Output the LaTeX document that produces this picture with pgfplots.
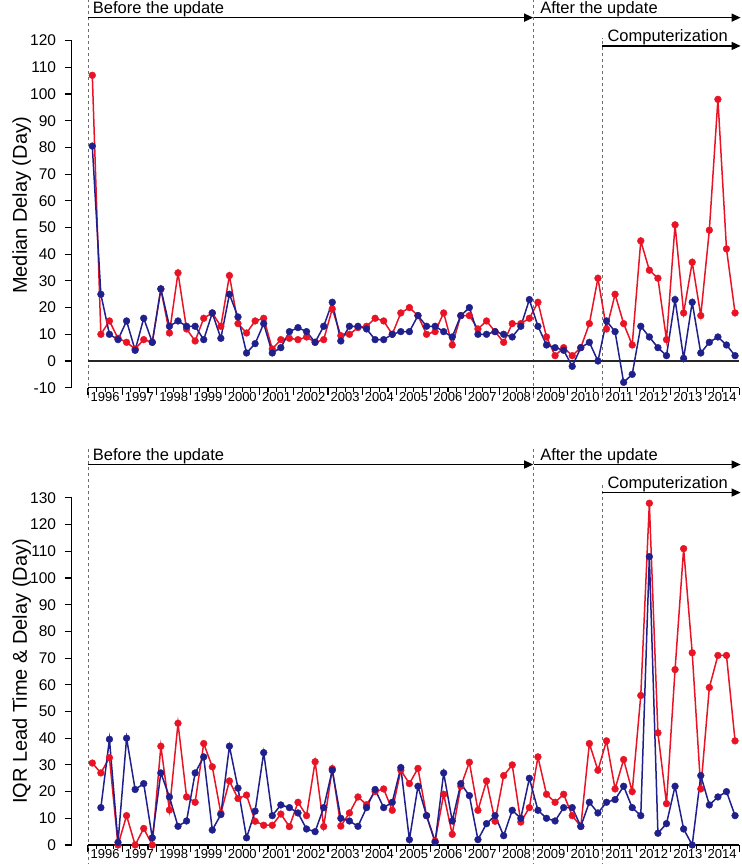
\documentclass[border=0pt]{standalone}
\usepackage{pgfplots}
\pgfplotsset{compat=1.18}
\usepackage{fontspec}
\setmainfont{Liberation Sans}
\usetikzlibrary{arrows.meta}
\definecolor{cred}{RGB}{232,20,38}
\definecolor{cblue}{RGB}{32,32,140}
\definecolor{dashgray}{RGB}{110,110,110}

\pgfplotstableread{
i r b
0 107 80.5
1 10 25
2 15 10
3 8.5 8
4 7 15
5 4.5 4
6 8 16
7 7 7
8 27 27
9 10.5 13
10 33 15
11 12 13
12 7.5 13
13 16 8
14 18 18
15 13 8.5
16 32 25
17 14 16.5
18 10.5 3
19 15 6.5
20 16 14
21 4.5 3
22 8 5
23 8.5 11
24 8 12.5
25 9 11
26 7 7
27 8 13
28 19.5 22
29 9.5 7.5
30 10 13
31 12.5 13
32 13 12
33 16 8
34 15 8
35 10 10
36 18 11
37 20 11
38 17 17
39 10 13
40 11 13
41 18 11
42 6 9
43 17 17
44 17 20
45 12 10
46 15 10
47 11 11
48 7 10
49 14 9
50 14 13
51 16 23
52 22 13
53 9 6
54 2 5
55 5 4
56 2 -2
57 5 5
58 14 7
59 31 0
60 12 15
61 25 11
62 14 -8
63 6 -5
64 45 13
65 34 9
66 31 5
67 8 2
68 51 23
69 18 1
70 37 22
71 17 3
72 49 7
73 98 9
74 42 6
75 18 2
}\topdata

\pgfplotstableread{
i r b
0 30.7 nan
1 27 14
2 32.7 39.6
3 0 1
4 11 40
5 0 20.8
6 6.2 23
7 0 2.7
8 37 27
9 13.1 18
10 45.6 7
11 18 9
12 16 27
13 38 33
14 29.3 5.6
15 11.9 11.4
16 24 37
17 17.4 21.3
18 18.7 2.7
19 8.9 12.7
20 7.4 34.6
21 7.4 11
22 11.6 15
23 6.9 14
24 16 12
25 11 6
26 31.2 5
27 6.9 14
28 28.6 28
29 7.1 10
30 12 9
31 18 7
32 15.1 14
33 20 20.8
34 21 14
35 13 16
36 28 29
37 23 2
38 28.7 22
39 11 11
40 1.5 1
41 19 27
42 4 9
43 22 23
44 31 18.5
45 13 2
46 24 8
47 8.9 11
48 26 3.5
49 30 13
50 8.6 10
51 14 25
52 33 13
53 19 10
54 16 9
55 19 14
56 11 14
57 6.9 7
58 38 16
59 28 12
60 39 16
61 21 17
62 32 22
63 20 14
64 56 11
65 128 108
66 42 4.4
67 15.5 8
68 65.7 22
69 111 6
70 72 0
71 21 26
72 59 15
73 71 18
74 71 20
75 39 11
}\botdata

\pgfplotsset{
  panel/.style={
    x=8.57pt, y=2.67pt,
    xmin=-2.4, xmax=75.5,
    clip=false,
    axis x line*=bottom, axis y line*=left,
    x axis line style={draw=none},
    y axis line style={line width=1.2pt},
    tick align=outside,
    major tick length=7pt, minor tick length=4pt,
    every tick/.style={black, line width=1.1pt},
    xtick={-0.5,3.5,...,75.5},
    minor xtick={-0.5,0.5,...,75.5},
    xticklabels={1996,1997,1998,1999,2000,2001,2002,2003,2004,2005,2006,2007,2008,2009,2010,2011,2012,2013,2014,{}},
    xticklabel style={font=\fontsize{13}{14}\selectfont, inner sep=0pt, anchor=north, xshift=17.14pt, yshift=2.5pt},
    yticklabel style={font=\fontsize{15.5}{17}\selectfont, inner sep=0pt, anchor=east, xshift=-8.5pt},
    /pgf/number format/assume math mode=true,
    ylabel style={font=\fontsize{20}{22}\selectfont, anchor=center},
    redline/.style={color=cred, line width=1.5pt, mark=*, mark size=3.4pt, mark options={solid, fill=cred, draw=cred, line width=0.4pt}},
    blueline/.style={color=cblue, line width=1.5pt, mark=*, mark size=3.4pt, mark options={solid, fill=cblue, draw=cblue, line width=0.4pt}},
  }
}

\begin{document}
\begin{tikzpicture}
\begin{axis}[panel, at={(0pt,0pt)}, anchor=origin,
  ymin=-10, ymax=120, ytick={-10,0,...,120},
  ylabel={Median Delay (Day)},
  ylabel style={at={(axis description cs:-0.075,0.525)}}]
  \draw[dashgray, dashed, line width=1pt] (axis cs:-0.5,-14) -- (axis cs:-0.5,135.2);
  \draw[dashgray, dashed, line width=1pt] (axis cs:51.5,-14) -- (axis cs:51.5,135.2);
  \draw[dashgray, dashed, line width=1pt] (axis cs:59.5,-14) -- (axis cs:59.5,121);
  \draw[line width=1.2pt] (axis cs:-0.5,-10) -- (axis cs:75.5,-10);
  \draw[line width=1.5pt, black!85] (axis cs:-0.5,0) -- (axis cs:75.5,0);
  \draw[line width=1.2pt, -{Triangle[length=9pt,width=8pt]}] (axis cs:-0.5,128.6) -- (axis cs:51.45,128.6);
  \draw[line width=1.2pt, -{Triangle[length=9pt,width=8pt]}] (axis cs:51.5,128.6) -- (axis cs:75.65,128.6);
  \draw[line width=1.2pt, -{Triangle[length=9pt,width=8pt]}] (axis cs:59.5,118) -- (axis cs:75.65,118);
  \node[anchor=base west, inner sep=0pt, font=\fontsize{16.5}{18}\selectfont] at (axis cs:0.05,130) {Before the update};
  \node[anchor=base west, inner sep=0pt, font=\fontsize{16.5}{18}\selectfont] at (axis cs:52.25,130) {After the update};
  \node[anchor=base west, inner sep=0pt, font=\fontsize{16.5}{18}\selectfont] at (axis cs:60.1,119.6) {Computerization};
  \addplot[redline] table[x=i, y=r] {\topdata};
  \addplot[blueline] table[x=i, y=b] {\topdata};
\end{axis}

\begin{axis}[panel, at={(0pt,-484pt)}, anchor=origin,
  ymin=0, ymax=130, ytick={0,10,...,130},
  ylabel={IQR Lead Time \& Delay (Day)},
  ylabel style={at={(axis description cs:-0.075,0.5)}}]
  \draw[dashgray, dashed, line width=1pt] (axis cs:-0.5,-8) -- (axis cs:-0.5,149.2);
  \draw[dashgray, dashed, line width=1pt] (axis cs:51.5,-8) -- (axis cs:51.5,149.2);
  \draw[dashgray, dashed, line width=1pt] (axis cs:59.5,-8) -- (axis cs:59.5,135);
  \draw[line width=1.2pt] (axis cs:-0.5,0) -- (axis cs:75.5,0);
  \draw[line width=1.2pt, -{Triangle[length=9pt,width=8pt]}] (axis cs:-0.5,142.5) -- (axis cs:51.45,142.5);
  \draw[line width=1.2pt, -{Triangle[length=9pt,width=8pt]}] (axis cs:51.5,142.5) -- (axis cs:75.65,142.5);
  \draw[line width=1.2pt, -{Triangle[length=9pt,width=8pt]}] (axis cs:59.5,132) -- (axis cs:75.65,132);
  \node[anchor=base west, inner sep=0pt, font=\fontsize{16.5}{18}\selectfont] at (axis cs:0.05,143.9) {Before the update};
  \node[anchor=base west, inner sep=0pt, font=\fontsize{16.5}{18}\selectfont] at (axis cs:52.25,143.9) {After the update};
  \node[anchor=base west, inner sep=0pt, font=\fontsize{16.5}{18}\selectfont] at (axis cs:60.1,133.6) {Computerization};
  \addplot[redline] table[x=i, y=r] {\botdata};
  \addplot[blueline, unbounded coords=jump] table[x=i, y=b] {\botdata};
\end{axis}
\pgfresetboundingbox
\path[use as bounding box] (-92.3pt,-503pt) rectangle (648.7pt,361pt);
\end{tikzpicture}
\end{document}
